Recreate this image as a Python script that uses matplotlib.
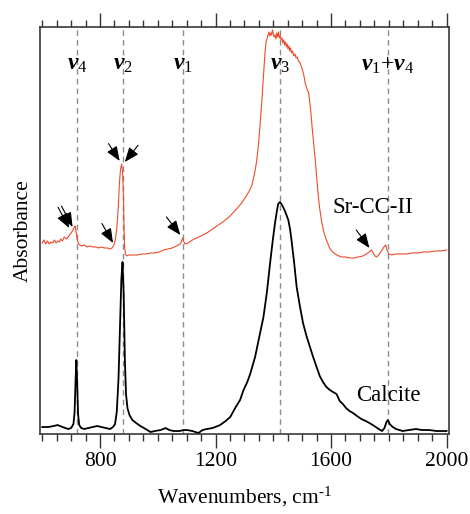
import matplotlib
matplotlib.use("Agg")
import matplotlib.pyplot as plt
from matplotlib.ticker import MultipleLocator, NullLocator

plt.rcParams['font.family'] = ['Liberation Serif', 'DejaVu Serif']
plt.rcParams['mathtext.fontset'] = 'custom'
plt.rcParams['mathtext.rm'] = 'Liberation Serif'
plt.rcParams['mathtext.it'] = 'Liberation Serif:italic'
plt.rcParams['mathtext.bf'] = 'Liberation Serif:bold'
plt.rcParams['mathtext.bfit'] = 'Liberation Serif:italic:bold'

# Sr-CC-II spectrum (wavenumber, absorbance, arbitrary offset units)
sr_wn = [600, 606, 612, 618, 624, 630, 636, 642, 648, 654, 660, 664, 670, 676, 684, 692, 700, 706,
         711, 714, 717, 721, 726, 735, 745, 755, 765, 775, 785, 795, 805, 815, 825, 835, 842, 848,
         853, 858, 863, 867, 871, 875, 878, 881, 883, 885, 888, 893, 900, 915, 930, 945, 960, 975,
         990, 1005, 1020, 1035, 1050, 1065, 1078, 1083, 1086, 1089, 1094, 1105, 1120, 1135, 1150,
         1170, 1190, 1210, 1230, 1250, 1270, 1285, 1300, 1315, 1325, 1335, 1342, 1348, 1354, 1360,
         1366, 1371, 1375, 1379, 1382, 1385, 1388, 1391, 1394, 1397, 1400, 1403, 1406, 1409, 1412,
         1415, 1418, 1421, 1424, 1427, 1430, 1433, 1436, 1439, 1442, 1445, 1448, 1451, 1454, 1457,
         1460, 1463, 1467, 1471, 1475, 1479, 1483, 1487, 1491, 1495, 1499, 1503, 1507, 1511, 1515,
         1519, 1522, 1526, 1530, 1535, 1540, 1545, 1550, 1555, 1560, 1567, 1575, 1584, 1595, 1605,
         1620, 1635, 1650, 1665, 1680, 1695, 1710, 1722, 1732, 1740, 1746, 1752, 1758, 1765, 1775,
         1783, 1789, 1794, 1800, 1810, 1825, 1840, 1860, 1880, 1900, 1920, 1940, 1960, 1980, 2000]
sr_abs = [1.91, 1.94, 1.90, 1.93, 1.90, 1.92, 1.91, 1.94, 1.91, 1.93, 1.92, 1.95, 1.93, 1.97, 1.95,
          1.98, 2.01, 2.04, 2.07, 2.08, 2.02, 1.94, 1.90, 1.88, 1.89, 1.87, 1.88, 1.87, 1.87, 1.86,
          1.87, 1.86, 1.86, 1.85, 1.86, 1.89, 1.94, 2.05, 2.25, 2.50, 2.65, 2.70, 2.62, 2.40, 2.10,
          1.88, 1.80, 1.78, 1.79, 1.79, 1.79, 1.80, 1.80, 1.81, 1.81, 1.82, 1.84, 1.85, 1.86, 1.88,
          1.90, 1.93, 1.96, 1.93, 1.90, 1.91, 1.94, 1.96, 1.98, 2.01, 2.05, 2.09, 2.13, 2.18, 2.24,
          2.29, 2.35, 2.42, 2.48, 2.60, 2.72, 2.87, 3.08, 3.31, 3.57, 3.80, 3.92, 3.96, 3.99, 4.02,
          3.98, 4.01, 3.99, 4.04, 4.00, 3.97, 3.99, 3.95, 4.01, 3.97, 4.02, 3.96, 3.98, 3.94, 3.96,
          3.91, 3.94, 3.89, 3.92, 3.87, 3.90, 3.85, 3.88, 3.83, 3.86, 3.81, 3.83, 3.78, 3.80, 3.76,
          3.77, 3.73, 3.72, 3.69, 3.66, 3.62, 3.57, 3.50, 3.47, 3.43, 3.42, 3.33, 3.22, 3.05, 2.90,
          2.75, 2.58, 2.41, 2.27, 2.13, 2.02, 1.94, 1.86, 1.82, 1.79, 1.77, 1.77, 1.76, 1.76, 1.77,
          1.78, 1.80, 1.82, 1.84, 1.81, 1.78, 1.77, 1.79, 1.83, 1.87, 1.89, 1.84, 1.80, 1.79, 1.80,
          1.80, 1.80, 1.81, 1.81, 1.82, 1.82, 1.83, 1.83, 1.84]

# Calcite spectrum
cal_wn = [600, 620, 640, 653, 670, 690, 700, 708, 712, 715, 718, 721, 724, 728, 735, 745, 760, 775,
          790, 805, 820, 835, 845, 852, 858, 864, 869, 874, 878, 882, 886, 890, 895, 902, 912, 925,
          940, 958, 975, 990, 1010, 1027, 1040, 1055, 1075, 1090, 1101, 1120, 1141, 1155, 1170, 1190,
          1216, 1235, 1251, 1270, 1285, 1297, 1310, 1320, 1337, 1350, 1366, 1378, 1389, 1398, 1406,
          1412, 1417, 1423, 1428, 1434, 1443, 1452, 1458, 1463, 1472, 1481, 1492, 1503, 1515, 1527,
          1538, 1550, 1561, 1572, 1584, 1596, 1607, 1619, 1630, 1641, 1652, 1664, 1676, 1690, 1705,
          1720, 1733, 1750, 1765, 1777, 1785, 1792, 1797, 1803, 1814, 1825, 1848, 1870, 1894, 1915,
          1940, 1965, 1992, 2000]
cal_abs = [0.07, 0.07, 0.08, 0.09, 0.07, 0.05, 0.06, 0.10, 0.22, 0.50, 0.74, 0.50, 0.20, 0.09, 0.06,
           0.05, 0.06, 0.07, 0.08, 0.07, 0.06, 0.05, 0.07, 0.10, 0.22, 0.55, 1.05, 1.55, 1.72, 1.40,
           0.75, 0.40, 0.26, 0.19, 0.14, 0.11, 0.08, 0.05, 0.02, 0.03, 0.04, 0.06, 0.04, 0.03, 0.03,
           0.04, 0.04, 0.03, 0.01, 0.04, 0.05, 0.06, 0.09, 0.13, 0.17, 0.27, 0.34, 0.44, 0.52, 0.60,
           0.77, 0.95, 1.17, 1.42, 1.71, 1.93, 2.11, 2.22, 2.30, 2.32, 2.30, 2.27, 2.21, 2.14, 2.05,
           1.94, 1.72, 1.47, 1.28, 1.11, 0.98, 0.87, 0.77, 0.67, 0.58, 0.52, 0.47, 0.44, 0.42, 0.40,
           0.33, 0.30, 0.26, 0.23, 0.21, 0.18, 0.15, 0.13, 0.11, 0.08, 0.05, 0.03, 0.06, 0.12, 0.14,
           0.10, 0.07, 0.05, 0.03, 0.04, 0.05, 0.04, 0.04, 0.03, 0.03, 0.03]

# Band assignments
band_pos = [720, 878, 1086, 1425, 1797]
band_labels = [r'$\mathbfit{v}_{4}$', r'$\mathbfit{v}_{2}$', r'$\mathbfit{v}_{1}$',
               r'$\mathbfit{v}_{3}$', r'$\mathbfit{v}_{1}$+$\mathbfit{v}_{4}$']

# Arrow tips on the Sr-CC-II trace (wavenumber, absorbance) and tail offsets in points
arrow_tips = [(693, 2.06), (705, 2.07), (845, 1.91), (868, 2.73), (886, 2.72), (1078, 1.99), (1733, 1.86)]
arrow_offsets = [(-8, 15), (-8, 15), (-8, 14), (-8, 12.5), (9.5, 12), (-10, 13), (-9.5, 13)]

fig = plt.figure(figsize=(4.7, 5.14), dpi=100)
ax = fig.add_axes([0.085, 0.1556, 0.87, 0.792])

for x in band_pos:
    ax.axvline(x, color='#8c8c8c', lw=1.0, ls=(0, (4, 3)), zorder=1)

ax.plot(sr_wn, sr_abs, color='#ee4b2b', lw=0.8, zorder=3)
ax.plot(cal_wn, cal_abs, color='black', lw=1.3, zorder=3)

for x, lab in zip(band_pos, band_labels):
    ax.text(x, 3.69, lab, ha='center', va='center', fontsize=17)

for (x, y), (dx, dy) in zip(arrow_tips, arrow_offsets):
    ax.annotate('', xy=(x, y), xytext=(dx, dy), textcoords='offset points',
                arrowprops=dict(arrowstyle='-|>,head_length=0.55,head_width=0.22', color='black',
                                lw=0.8, mutation_scale=16, shrinkA=0, shrinkB=0), zorder=4)

ax.text(1744, 2.26, 'Sr-CC-II', ha='center', va='center', fontsize=16.5)
ax.text(1799, 0.39, 'Calcite', ha='center', va='center', fontsize=16.5)

ax.set_xlim(592, 2008)
ax.set_ylim(0, 4.07)
ax.xaxis.set_major_locator(MultipleLocator(400))
ax.xaxis.set_minor_locator(MultipleLocator(50))
ax.yaxis.set_major_locator(NullLocator())
ax.tick_params(axis='x', which='both', top=True, direction='out', color='#333333',
               labelsize=15.5, pad=3)
ax.tick_params(axis='x', which='major', length=10, width=1.0)
ax.tick_params(axis='x', which='minor', length=5, width=1.0)
for s in ax.spines.values():
    s.set_color('#3a3a3a')
    s.set_linewidth(1.2)

ax.set_xlabel(r'Wavenumbers, cm$^{\mathregular{\text{-}1}}$', fontsize=15.5, labelpad=10)
ax.set_ylabel('Absorbance', fontsize=15.5, labelpad=5)

fig.savefig('out.png', dpi=100)
